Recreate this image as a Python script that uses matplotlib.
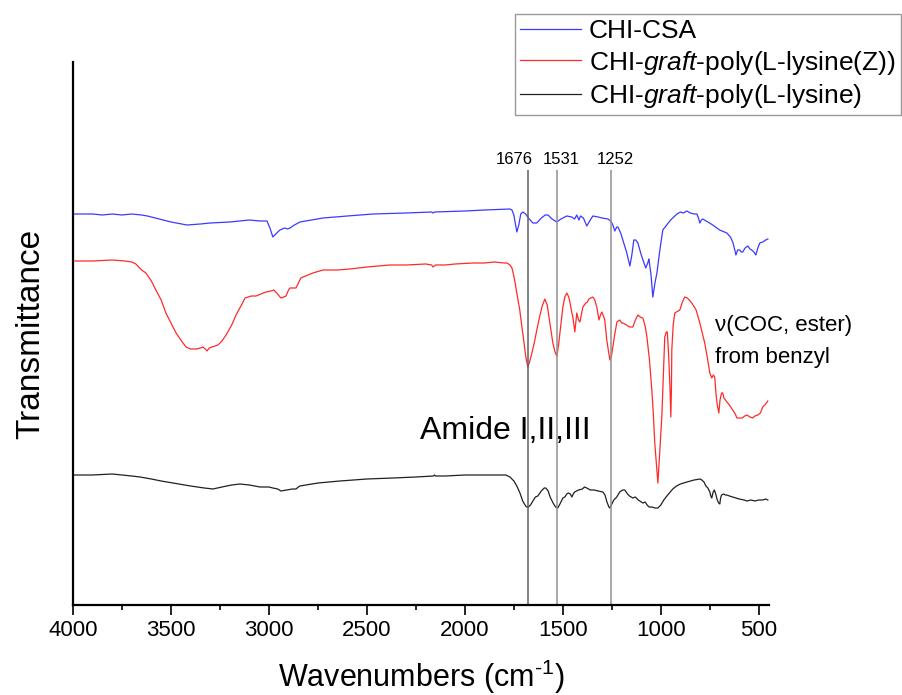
import numpy as np
import matplotlib
matplotlib.use("Agg")
import matplotlib.pyplot as plt

plt.rcParams['font.family'] = ['Liberation Sans', 'DejaVu Sans']
plt.rcParams['mathtext.fontset'] = 'custom'
plt.rcParams['mathtext.rm'] = 'Liberation Sans'
plt.rcParams['mathtext.it'] = 'Liberation Sans:italic'

# ---------------- data (wavenumber, transmittance in arbitrary offset units) -------------
blue_wn = [4000, 3900, 3850, 3800, 3750, 3700, 3650, 3620, 3560, 3500, 3418, 3350, 3300, 3200,
           3100, 3046, 3010, 2995, 2980, 2960, 2944, 2920, 2905, 2893, 2870, 2842, 2724, 2600,
           2469, 2300, 2170, 2163, 2155, 2000, 1900, 1770, 1760, 1750, 1735, 1725, 1715, 1704,
           1690, 1676, 1653, 1633, 1610, 1590, 1576, 1555, 1531, 1510, 1480, 1455, 1440, 1429,
           1418, 1410, 1395, 1378, 1360, 1347, 1320, 1300, 1270, 1255, 1245, 1235, 1225, 1219,
           1205, 1194, 1175, 1158, 1148, 1138, 1128, 1117, 1100, 1077, 1065, 1061, 1050, 1041,
           1030, 1020, 1005, 990, 970, 950, 918, 900, 885, 867, 850, 830, 816, 808, 801, 793,
           786, 760, 735, 700, 663, 645, 633, 620, 617, 608, 597, 590, 582, 570, 556, 545, 536,
           525, 515, 505, 495, 480, 465, 454]
blue_px = [214, 214, 215, 214, 215, 214, 215, 216, 219, 222, 225, 224, 223, 222,
           220, 221, 221, 228, 237, 233, 230, 228, 229, 228, 225, 222, 218, 216,
           214, 213, 212, 213, 212, 211, 210, 209, 210, 215, 232, 225, 214, 212,
           214, 218, 223, 223, 218, 215, 215, 219, 222, 219, 216, 217, 219, 215,
           220, 216, 218, 226, 220, 216, 217, 218, 219, 221, 225, 231, 227, 227,
           233, 240, 252, 266, 255, 240, 240, 243, 255, 268, 262, 259, 275, 297,
           283, 273, 250, 230, 225, 220, 214, 212, 213, 211, 213, 214, 214, 218, 223, 220,
           219, 222, 225, 230, 233, 237, 242, 252, 255, 250, 250, 252, 252, 248, 246, 249, 250,
           252, 255, 248, 243, 242, 240, 239]

red_wn = [4000, 3900, 3800, 3735, 3700, 3679, 3650, 3628, 3600, 3577, 3550, 3526, 3500, 3474,
          3450, 3423, 3400, 3372, 3350, 3337, 3325, 3316, 3305, 3290, 3260, 3240, 3219, 3190,
          3168, 3140, 3122, 3090, 3066, 3040, 3015, 2990, 2975, 2960, 2939, 2925, 2913, 2900,
          2893, 2875, 2862, 2850, 2837, 2800, 2776, 2724, 2650, 2587, 2500, 2383, 2300, 2200,
          2170, 2163, 2150, 2100, 2050, 1959, 1900, 1850, 1800, 1786, 1770, 1760, 1750, 1735,
          1720, 1709, 1700, 1689, 1679, 1670, 1658, 1645, 1633, 1620, 1607, 1592, 1580, 1571,
          1560, 1551, 1540, 1531, 1522, 1515, 1500, 1490, 1480, 1470, 1464, 1455, 1449, 1439,
          1429, 1420, 1413, 1405, 1398, 1383, 1375, 1367, 1357, 1347, 1337, 1327, 1316, 1308,
          1301, 1293, 1286, 1276, 1268, 1260, 1252, 1245, 1235, 1224, 1210, 1200, 1194, 1175,
          1160, 1143, 1130, 1117, 1105, 1092, 1080, 1071, 1058, 1046, 1038, 1031, 1022, 1015,
          1008, 1000, 995, 988, 980, 972, 967, 963, 959, 953, 949, 946, 944, 937, 929, 920,
          903, 890, 878, 865, 855, 842, 820, 801, 790, 776, 765, 750, 740, 732, 725, 718, 712,
          704, 698, 690, 684, 678, 670, 663, 650, 633, 620, 612, 600, 585, 572, 561, 545, 531,
          520, 505, 492, 480, 465, 454]
red_px = [261, 261, 260, 261, 262, 264, 270, 273, 281, 290, 300, 313, 323, 333,
          340, 347, 349, 349, 348, 347, 349, 351, 348, 347, 345, 341, 335, 325,
          315, 305, 298, 296, 296, 294, 292, 291, 290, 293, 298, 297, 296, 290,
          288, 288, 288, 283, 278, 275, 273, 270, 270, 269, 267, 265, 265, 264,
          265, 267, 265, 265, 264, 263, 263, 262, 263, 263, 265, 268, 276, 293,
          310, 327, 340, 357, 367, 362, 353, 342, 330, 318, 307, 299, 305, 317,
          332, 343, 352, 356, 345, 333, 307, 297, 293, 297, 302, 312, 317, 332,
          313, 320, 322, 314, 307, 303, 302, 299, 298, 297, 300, 307, 320, 315,
          312, 316, 320, 340, 350, 360, 356, 347, 334, 322, 320, 323, 323, 325,
          327, 327, 320, 315, 317, 318, 326, 337, 360, 390, 415, 443, 465, 483,
          460, 435, 417, 380, 337, 332, 332, 345, 360, 390, 417, 390, 350, 325, 313, 312,
          310, 302, 297, 298, 300, 303, 310, 323, 332, 343, 355, 373, 378, 375, 377, 395, 405,
          413, 400, 393, 393, 398, 400, 402, 405, 410, 414, 418, 418, 418, 416, 415, 417, 418,
          416, 415, 413, 407, 404, 401]

black_wn = [4000, 3900, 3800, 3750, 3700, 3658, 3600, 3550, 3490, 3400, 3330, 3286, 3240, 3190,
            3148, 3100, 3046, 3000, 2980, 2955, 2939, 2910, 2880, 2862, 2850, 2842, 2750, 2638,
            2500, 2367, 2250, 2160, 2155, 2150, 2100, 2000, 1900, 1850, 1791, 1770, 1750, 1735,
            1719, 1705, 1690, 1684, 1676, 1665, 1650, 1640, 1628, 1610, 1595, 1587, 1575, 1565,
            1550, 1537, 1526, 1515, 1500, 1490, 1480, 1472, 1462, 1454, 1447, 1440, 1420, 1400,
            1390, 1378, 1360, 1340, 1320, 1296, 1285, 1275, 1265, 1260, 1250, 1240, 1225, 1210,
            1195, 1184, 1170, 1160, 1143, 1130, 1115, 1100, 1092, 1080, 1070, 1060, 1046, 1030,
            1015, 1000, 985, 965, 939, 920, 900, 867, 830, 800, 791, 780, 770, 760, 750, 745,
            740, 733, 727, 720, 712, 705, 699, 695, 690, 680, 670, 663, 650, 633, 600, 575, 561,
            540, 520, 500, 480, 465, 454]
black_px = [475, 475, 474, 475, 476, 477, 479, 481, 483, 486, 488, 489, 487, 485,
            484, 485, 487, 487, 488, 489, 491, 490, 489, 489, 487, 486, 483, 481,
            479, 478, 477, 476, 475, 476, 476, 475, 475, 475, 475, 477, 481, 486,
            493, 501, 506, 507, 507, 505, 500, 497, 496, 491, 488, 488, 491, 497,
            503, 507, 508, 504, 498, 497, 494, 493, 494, 497, 494, 492, 490, 489,
            487, 488, 490, 490, 491, 492, 495, 502, 507, 508, 504, 500, 497, 492,
            490, 490, 494, 496, 498, 497, 500, 502, 503, 502, 505, 507, 507, 508,
            508, 505, 500, 495, 489, 486, 484, 482, 480, 479, 480, 482, 486, 488, 492, 496,
            498, 492, 490, 494, 500, 503, 504, 498, 495, 494, 495, 495, 496, 497, 499, 500, 501,
            500, 501, 500, 500, 499, 500]

series_labels = ['CHI-CSA',
                 r'CHI-$\mathit{graft}$-poly(L-lysine(Z))',
                 r'CHI-$\mathit{graft}$-poly(L-lysine)']
peak_wn = [1676, 1531, 1252]
peak_labels = ['1676', '1531', '1252']
xticks = [4000, 3500, 3000, 2500, 2000, 1500, 1000, 500]

# pixel-read values converted to transmittance units (baseline of plot = 0)
BASE = 605
blue_t = BASE - np.array(blue_px)
red_t = BASE - np.array(red_px)
black_t = BASE - np.array(black_px)

fig = plt.figure(figsize=(9.02, 6.95), dpi=100)
ax = fig.add_axes([73/902, 1-605/695, (769-73)/902, (605-62)/695])

ax.plot(blue_wn, blue_t, color='#3a3aff', lw=0.9, label=series_labels[0])
ax.plot(red_wn, red_t, color='#ff2a2a', lw=0.9, label=series_labels[1])
ax.plot(black_wn, black_t, color='#202020', lw=0.9, label=series_labels[2])

ax.set_xlim(4000, 448)
ax.set_ylim(0, 543)

ax.vlines(peak_wn, 0, 435, colors=['#606060', '#909090', '#909090'], lw=1.1)
offsets = [-14, 4, 4]
for wn, lab, off in zip(peak_wn, peak_labels, offsets):
    ax.annotate(lab, xy=(wn, 441), xycoords='data', xytext=(off, 0),
                textcoords='offset pixels', ha='center', va='baseline', fontsize=12)

ax.text(2230, 166, 'Amide I,II,III', fontsize=23, ha='left', va='baseline')
ax.text(725, 274, 'ν(COC, ester)', fontsize=16, ha='left', va='baseline')
ax.text(725, 242, 'from benzyl', fontsize=16, ha='left', va='baseline')

for s in ['top', 'right']:
    ax.spines[s].set_visible(False)
for s in ['left', 'bottom']:
    ax.spines[s].set_linewidth(1.6)

ax.set_xticks(xticks)
ax.set_xticks(np.arange(4000, 449, -250), minor=True)
ax.tick_params(axis='x', which='major', length=7, width=1.2, labelsize=16, pad=4)
ax.tick_params(axis='x', which='minor', length=3.5, width=1.2)
ax.set_yticks([])

ax.set_xlabel(r'Wavenumbers (cm$^{\text{-1}}$)', fontsize=22, labelpad=12)
ax.set_ylabel('Transmittance', fontsize=24, labelpad=19)

leg = ax.legend(loc='upper right', bbox_to_anchor=(901/902, 1-14/695),
                bbox_transform=fig.transFigure, fontsize=19, frameon=True,
                fancybox=False, edgecolor='#808080', borderpad=0.2,
                labelspacing=0.2, handlelength=2.3, handletextpad=0.3,
                borderaxespad=0)
leg.get_frame().set_linewidth(1.0)

fig.savefig('out.png', dpi=100)
